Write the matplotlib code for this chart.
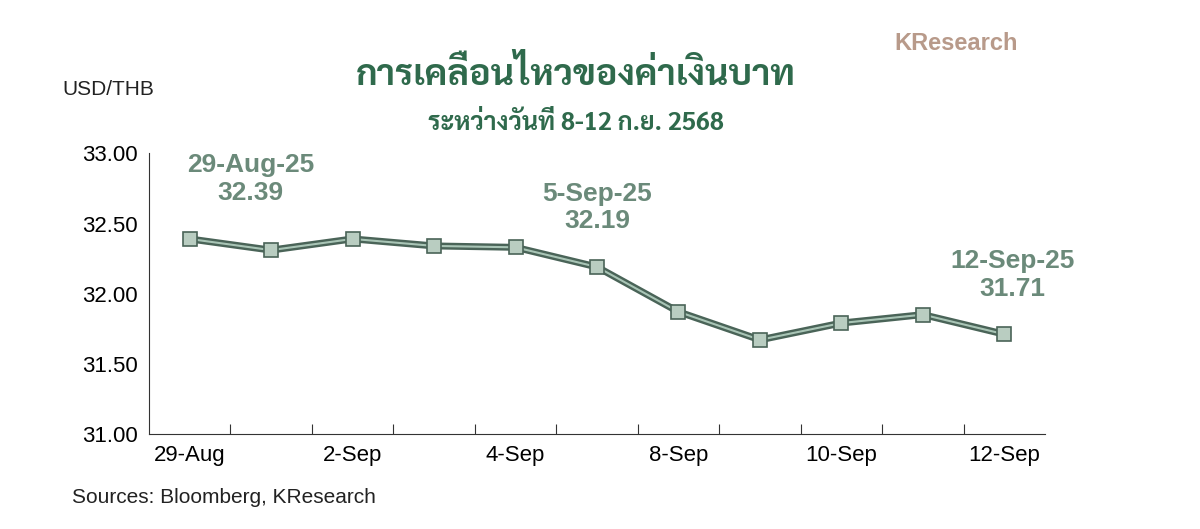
import os
import matplotlib
matplotlib.use("Agg")
import matplotlib.pyplot as plt
from matplotlib import font_manager as fm
import numpy as np

labels = ["29-Aug", "1-Sep", "2-Sep", "3-Sep", "4-Sep", "5-Sep", "8-Sep", "9-Sep", "10-Sep", "11-Sep", "12-Sep"]
values = [32.39, 32.31, 32.39, 32.34, 32.33, 32.19, 31.87, 31.67, 31.79, 31.85, 31.71]
notes = [(0, "29-Aug-25\n32.39"), (5, "5-Sep-25\n32.19"), (10, "12-Sep-25\n31.71")]

gdir = "/usr/share/fonts/truetype/google-fonts/"
for name in ["Sarabun-Bold.ttf", "Sarabun-Regular.ttf"]:
    if os.path.exists(gdir + name):
        fm.fontManager.addfont(gdir + name)

plt.rcParams['font.family'] = ['Liberation Sans', 'DejaVu Sans']
thai = ['Sarabun', 'Liberation Sans', 'DejaVu Sans']

fig = plt.figure(figsize=(12, 5.29), dpi=100)
ax = fig.add_axes([0.124, 0.18, 0.747, 0.53])
x = np.arange(len(values))

ax.plot(x, values, color="#4a6458", lw=5, solid_capstyle="round")
ax.plot(x, values, color="#a9c5b6", lw=1.5)
ax.plot(x, values, ls="none", marker="s", ms=10, mfc="#b9cdc1", mec="#4a6458", mew=1.2)

ax.set_xlim(-0.5, len(values) - 0.5)
ax.set_ylim(31.0, 33.0)
yt = np.arange(31.0, 33.01, 0.5)
ax.set_yticks(yt)
ax.set_yticklabels([f"{v:.2f}" for v in yt], fontsize=16)
ax.set_xticks(np.arange(0.5, len(values) - 0.5))
ax.set_xticklabels([])
ax.set_xticks(x[::2], minor=True)
ax.set_xticklabels(labels[::2], minor=True, fontsize=16)
ax.tick_params(axis="x", which="minor", length=0, pad=8)
ax.tick_params(axis="x", which="major", length=7, direction="in", color="#333333")
ax.tick_params(axis="y", length=0, pad=8)
for s in ["top", "right"]:
    ax.spines[s].set_visible(False)
ax.spines["left"].set_color("#333333")
ax.spines["bottom"].set_color("#333333")

for (i, t), dx in zip(notes, [0.75, 0.0, 0.1]):
    ax.text(x[i] + dx, values[i] + 0.24, t, ha="center", va="bottom", fontsize=19,
            fontweight="bold", color="#6b8a7a", linespacing=1.2)

fig.text(0.48, 0.84, "การเคลื่อนไหวของค่าเงินบาท", ha="center", fontsize=26,
         fontweight="bold", color="#2f6a4c", family=thai)
fig.text(0.48, 0.755, "ระหว่างวันที่ 8-12 ก.ย. 2568", ha="center", fontsize=18,
         fontweight="bold", color="#2f6a4c", family=thai)
fig.text(0.052, 0.82, "USD/THB", fontsize=15, color="#222222")
fig.text(0.06, 0.05, "Sources: Bloomberg, KResearch", fontsize=15, color="#222222")
fig.text(0.745, 0.905, "KResearch", fontsize=17, fontweight="bold", color="#b89a8a")

fig.savefig("out.png", dpi=100)
